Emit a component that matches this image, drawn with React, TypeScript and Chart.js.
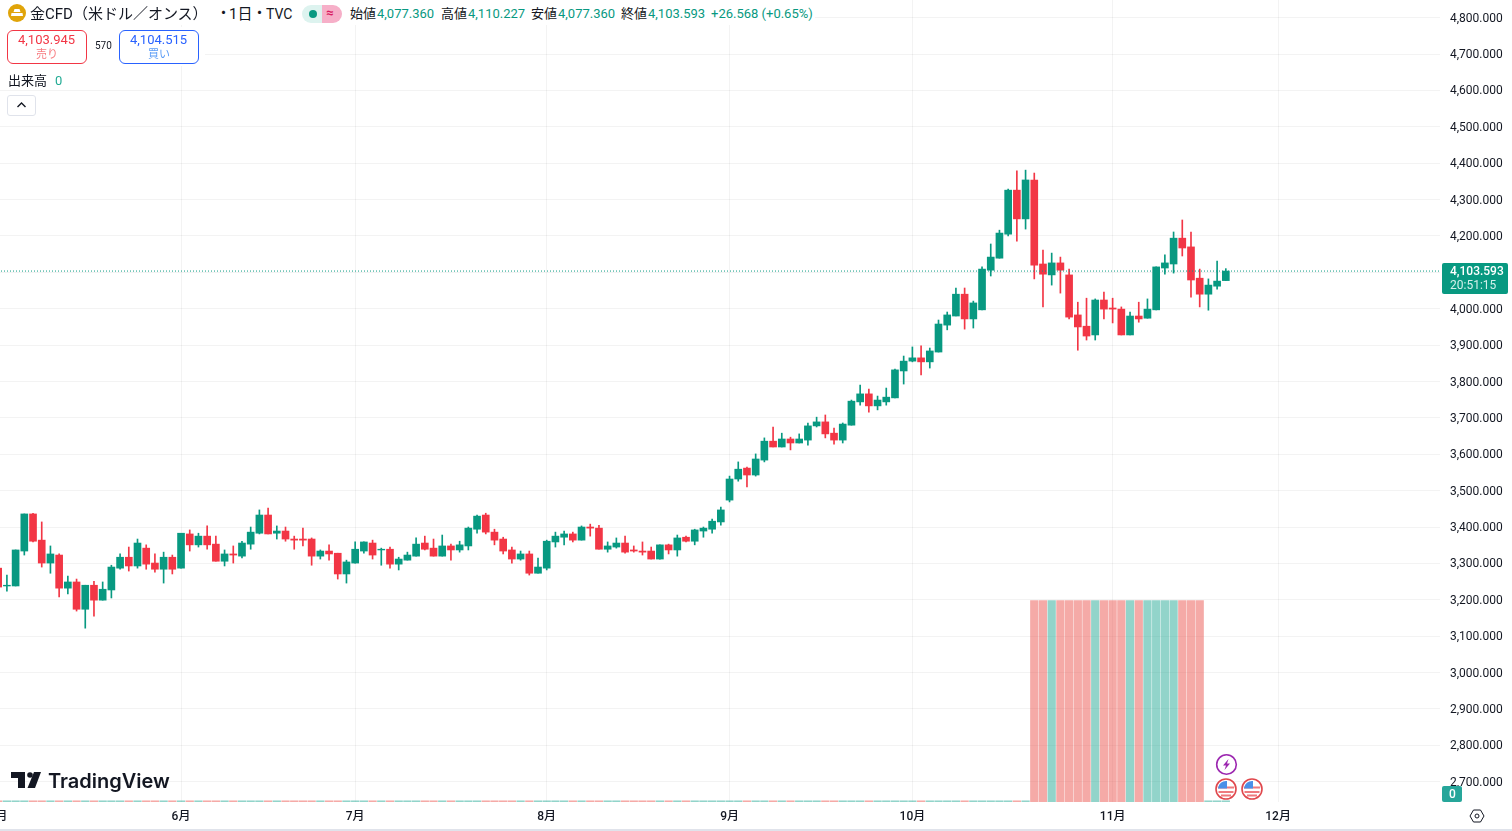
import React, { useEffect, useRef } from 'react';
import { Chart, registerables } from 'chart.js';

Chart.register(...registerables);

const UP = '#089981';
const DOWN = '#F23645';
const UP_VOL = 'rgba(38, 170, 150, 0.5)';
const DOWN_VOL = 'rgba(235, 85, 80, 0.5)';
const FONT = 'Roboto, "Noto Sans CJK JP", sans-serif';

// bar 0 is the first session of June, the first bar on screen is -21
const FIRST_BAR = -21;

const opens = [
  3287, 3238, 3238, 3334, 3436, 3364, 3301, 3323, 3232, 3249, 3174, 3240, 3199, 3227, 3287, 3317, 3293, 3342, 3301, 3284,
  3317, 3287, 3381, 3351, 3375, 3353, 3306, 3326, 3320, 3353, 3383, 3433, 3383, 3389, 3367, 3367, 3367, 3320, 3334, 3328,
  3271, 3301, 3334, 3356, 3337, 3339, 3298, 3309, 3320, 3356, 3342, 3320, 3348, 3337, 3348, 3394, 3433, 3386, 3367, 3337,
  3312, 3326, 3273, 3287, 3359, 3372, 3381, 3364, 3400, 3397, 3339, 3345, 3356, 3337, 3334, 3334, 3312, 3351, 3337, 3372,
  3361, 3389, 3394, 3414, 3474, 3532, 3562, 3543, 3584, 3636, 3620, 3642, 3631, 3639, 3678, 3689, 3658, 3639, 3680, 3744,
  3766, 3733, 3744, 3755, 3829, 3856, 3865, 3854, 3881, 3955, 3980, 4040, 3972, 3997, 4106, 4139, 4205, 4326, 4247, 4354,
  4123, 4093, 4126, 4093, 3983, 3952, 3928, 4024, 4002, 3999, 3928, 3980, 3974, 3997, 4112, 4123, 4194, 4170, 4084, 4040,
  4062, 4077.36,
];
const highs = [
  3293, 3268, 3337, 3436, 3438, 3414, 3348, 3326, 3265, 3257, 3240, 3251, 3249, 3295, 3326, 3345, 3367, 3351, 3326, 3331,
  3323, 3383, 3392, 3383, 3403, 3375, 3337, 3348, 3361, 3400, 3447, 3452, 3403, 3400, 3375, 3397, 3370, 3337, 3351, 3328,
  3309, 3359, 3359, 3364, 3342, 3345, 3317, 3331, 3370, 3375, 3367, 3378, 3353, 3361, 3400, 3433, 3438, 3394, 3372, 3345,
  3334, 3334, 3315, 3364, 3386, 3389, 3386, 3403, 3408, 3405, 3359, 3370, 3375, 3348, 3359, 3345, 3351, 3353, 3378, 3375,
  3394, 3400, 3422, 3455, 3540, 3579, 3565, 3601, 3645, 3675, 3658, 3647, 3656, 3686, 3702, 3708, 3672, 3686, 3749, 3790,
  3779, 3760, 3782, 3834, 3870, 3895, 3898, 3892, 3969, 3991, 4057, 4057, 4021, 4115, 4178, 4216, 4329, 4379, 4381, 4373,
  4161, 4153, 4142, 4109, 4018, 4029, 4027, 4046, 4029, 4005, 3991, 4018, 4027, 4115, 4148, 4211, 4244, 4211, 4109, 4082,
  4131, 4110.227,
];
const lows = [
  3224, 3224, 3238, 3323, 3359, 3290, 3273, 3208, 3216, 3169, 3122, 3155, 3199, 3205, 3284, 3279, 3287, 3284, 3276, 3246,
  3271, 3287, 3334, 3345, 3339, 3306, 3293, 3301, 3315, 3339, 3381, 3381, 3367, 3361, 3339, 3348, 3295, 3312, 3309, 3257,
  3246, 3301, 3328, 3312, 3295, 3287, 3282, 3309, 3320, 3337, 3320, 3320, 3309, 3331, 3337, 3383, 3381, 3351, 3326, 3301,
  3309, 3268, 3273, 3282, 3345, 3351, 3359, 3364, 3375, 3339, 3331, 3342, 3328, 3331, 3323, 3312, 3312, 3326, 3320, 3359,
  3351, 3372, 3383, 3405, 3469, 3526, 3510, 3540, 3579, 3620, 3620, 3612, 3631, 3625, 3675, 3645, 3628, 3631, 3680, 3735,
  3716, 3722, 3735, 3755, 3793, 3854, 3818, 3837, 3881, 3942, 3980, 3944, 3947, 3997, 4090, 4139, 4200, 4186, 4219, 4082,
  4005, 4065, 4043, 3972, 3886, 3914, 3914, 3972, 3961, 3928, 3928, 3963, 3974, 3997, 4095, 4098, 4145, 4032, 4005, 3996,
  4054, 4077.36,
];
const closes = [
  3235, 3240, 3337, 3436, 3361, 3301, 3326, 3232, 3249, 3174, 3240, 3199, 3229, 3290, 3317, 3293, 3356, 3298, 3284, 3317,
  3284, 3383, 3351, 3375, 3351, 3306, 3326, 3323, 3356, 3386, 3433, 3381, 3389, 3367, 3364, 3364, 3320, 3334, 3326, 3271,
  3304, 3339, 3359, 3323, 3339, 3298, 3312, 3323, 3353, 3339, 3320, 3348, 3337, 3351, 3397, 3430, 3386, 3364, 3334, 3312,
  3326, 3273, 3290, 3361, 3375, 3381, 3364, 3400, 3397, 3339, 3348, 3356, 3331, 3334, 3331, 3312, 3351, 3337, 3370, 3361,
  3392, 3397, 3416, 3447, 3532, 3559, 3543, 3587, 3636, 3620, 3642, 3631, 3642, 3678, 3689, 3656, 3639, 3683, 3746, 3766,
  3733, 3749, 3757, 3832, 3856, 3865, 3854, 3884, 3958, 3983, 4040, 3972, 4016, 4109, 4142, 4208, 4326, 4247, 4354, 4120,
  4095, 4126, 4106, 3977, 3950, 3925, 4024, 3999, 3999, 3928, 3980, 3972, 3999, 4115, 4126, 4194, 4167, 4079, 4040, 4065,
  4076, 4103.593,
];
// the pane is clipped at the top, 1 is the height the big bars reach on screen
const volumes = [
  0.006, 0.006, 0.006, 0.006, 0.006, 0.006, 0.006, 0.006, 0.006, 0.006, 0.006, 0.006, 0.006, 0.006, 0.006, 0.006, 0.006, 0.006, 0.006, 0.006,
  0.006, 0.006, 0.006, 0.006, 0.006, 0.006, 0.006, 0.006, 0.006, 0.006, 0.006, 0.006, 0.006, 0.006, 0.006, 0.006, 0.006, 0.006, 0.006, 0.006,
  0.006, 0.006, 0.006, 0.006, 0.006, 0.006, 0.006, 0.006, 0.006, 0.006, 0.006, 0.006, 0.006, 0.006, 0.006, 0.006, 0.006, 0.006, 0.006, 0.006,
  0.006, 0.006, 0.006, 0.006, 0.006, 0.006, 0.006, 0.006, 0.006, 0.006, 0.006, 0.006, 0.006, 0.006, 0.006, 0.006, 0.006, 0.006, 0.006, 0.006,
  0.006, 0.006, 0.006, 0.006, 0.006, 0.006, 0.006, 0.006, 0.006, 0.006, 0.006, 0.006, 0.006, 0.006, 0.006, 0.006, 0.006, 0.006, 0.006, 0.006,
  0.006, 0.006, 0.006, 0.006, 0.006, 0.006, 0.006, 0.006, 0.006, 0.006, 0.006, 0.006, 0.006, 0.006, 0.006, 0.006, 0.006, 0.006, 0.006, 1,
  1, 1, 1, 1, 1, 1, 1, 1, 1, 1, 1, 1, 1, 1, 1, 1, 1, 1, 1, 0.006,
  0.006, 0.006,
];

const monthBars = [-21, 0, 20, 42, 63, 84, 107, 126];
const monthLabels = ['5月', '6月', '7月', '8月', '9月', '10月', '11月', '12月'];
const priceTicks = [
  2700, 2800, 2900, 3000, 3100, 3200, 3300, 3400, 3500, 3600, 3700, 3800, 3900, 4000, 4100, 4200, 4300, 4400, 4500, 4600,
  4700, 4800,
];
const lastPrice = 4103.593;

const bars = opens.map((_, i) => i + FIRST_BAR);
const isUp = (i: number) => closes[i] >= opens[i];

const CandleChart: React.FC = () => {
  const canvasRef = useRef<HTMLCanvasElement>(null);

  useEffect(() => {
    if (!canvasRef.current) return;
    const xMin = -23.09;
    const xMax = 144.6;
    const yMin = 2644.2;
    const yMax = 4848.65;
    // the price labels sit one pixel under their grid line, so they get their own axis
    const labelShift = 2.75;

    const chart = new Chart(canvasRef.current, {
      type: 'bar',
      data: {
        datasets: [
          {
            label: 'last',
            type: 'line',
            data: [
              { x: xMin, y: lastPrice },
              { x: xMax, y: lastPrice }
            ],
            borderColor: UP,
            borderWidth: 1,
            borderDash: [1, 2],
            pointRadius: 0,
            order: 0
          },
          {
            label: 'body',
            data: bars.map((b, i) => ({ x: b, y: [opens[i], closes[i]] })),
            backgroundColor: bars.map((_, i) => (isUp(i) ? UP : DOWN)),
            barThickness: 7,
            grouped: false,
            order: 1
          },
          {
            label: 'wick',
            data: bars.map((b, i) => ({ x: b, y: [lows[i], highs[i]] })),
            backgroundColor: bars.map((_, i) => (isUp(i) ? UP : DOWN)),
            barThickness: 1,
            grouped: false,
            order: 2
          },
          {
            label: 'volume',
            yAxisID: 'vol',
            data: bars.map((b, i) => ({ x: b, y: volumes[i] })),
            backgroundColor: bars.map((_, i) => (isUp(i) ? UP_VOL : DOWN_VOL)),
            barThickness: 7.6,
            grouped: false,
            order: 3
          }
        ] as any
      },
      options: {
        responsive: false,
        animation: false,
        layout: { padding: 0 },
        plugins: { legend: { display: false }, tooltip: { enabled: false } },
        scales: {
          x: {
            type: 'linear',
            offset: false,
            min: xMin,
            max: xMax,
            afterBuildTicks: (scale: any) => {
              scale.ticks = monthBars.map((value) => ({ value }));
            },
            afterFit: (scale: any) => {
              scale.height = 29;
              scale.paddingLeft = 0;
              scale.paddingRight = 0;
            },
            grid: { color: 'rgba(46, 46, 46, 0.06)', offset: false, drawTicks: false },
            border: { display: false },
            ticks: {
              autoSkip: false,
              maxRotation: 0,
              padding: 8,
              color: '#131722',
              font: { family: FONT, size: 12, weight: 500 },
              callback: (value: any) => monthLabels[monthBars.indexOf(Number(value))]
            }
          },
          y: {
            position: 'right',
            min: yMin,
            max: yMax,
            afterBuildTicks: (scale: any) => {
              scale.ticks = priceTicks.map((value) => ({ value }));
            },
            afterFit: (scale: any) => {
              scale.width = 0;
              scale.paddingTop = 0;
              scale.paddingBottom = 0;
            },
            grid: { color: 'rgba(46, 46, 46, 0.06)', drawTicks: false },
            border: { display: false },
            ticks: { display: false }
          },
          priceLabels: {
            type: 'linear',
            position: 'right',
            min: yMin + labelShift,
            max: yMax + labelShift,
            afterBuildTicks: (scale: any) => {
              scale.ticks = priceTicks.map((value) => ({ value }));
            },
            afterFit: (scale: any) => {
              scale.width = 72;
              scale.paddingTop = 0;
              scale.paddingBottom = 0;
            },
            grid: { display: false, drawTicks: false },
            border: { display: false },
            ticks: {
              padding: 10,
              color: '#131722',
              font: { family: FONT, size: 12 },
              callback: (value: any) =>
                Number(value).toLocaleString('en-US', { minimumFractionDigits: 3, maximumFractionDigits: 3 })
            }
          },
          vol: { type: 'linear', display: false, min: 0, max: 3.984 }
        }
      }
    });

    return () => chart.destroy();
  }, []);

  return (
    <canvas
      ref={canvasRef}
      width={1532}
      height={831}
      style={{ position: 'absolute', left: -20, top: 0, width: 1532, height: 831 }}
    />
  );
};

// one line of text, y is the middle of the line
const T: React.FC<{ x: number; y: number; size?: number; color?: string; weight?: number; family?: string; children: React.ReactNode }> = ({
  x,
  y,
  size = 13,
  color = '#131722',
  weight = 400,
  family,
  children
}) => (
  <div
    style={{
      position: 'absolute',
      left: x,
      top: y - 10,
      lineHeight: '20px',
      fontSize: size,
      color,
      fontWeight: weight,
      fontFamily: family,
      whiteSpace: 'nowrap',
      textSpacingTrim: 'space-all'
    } as React.CSSProperties}
  >
    {children}
  </div>
);

const Box: React.FC<{ x: number; y: number; w: number; h: number; style?: React.CSSProperties; children?: React.ReactNode }> = ({
  x,
  y,
  w,
  h,
  style,
  children
}) => <div style={{ position: 'absolute', left: x, top: y, width: w, height: h, boxSizing: 'border-box', ...style }}>{children}</div>;

const Flag: React.FC<{ x: number; y: number }> = ({ x, y }) => (
  <svg style={{ position: 'absolute', left: x - 12, top: y - 12 }} width={24} height={24} viewBox="0 0 24 24">
    <circle cx={12} cy={12} r={10} fill="#fff" stroke="#E0474C" strokeWidth={1.6} />
    <path d="M4 10.5H20M4.5 15H19.5M7 18.5H17" stroke="#EE7A7E" strokeWidth={2} />
    <path d="M4 11.5A8 8 0 0 1 13 4V11.5Z" fill="#4A90E8" />
  </svg>
);

const App: React.FC = () => (
  <div style={{ position: 'relative', width: 1512, height: 831, overflow: 'hidden', background: '#fff', fontFamily: FONT }}>
    <style>{'body{margin:0;overflow:hidden}'}</style>
    <CandleChart />

    {/* legend masks the grid behind it */}
    <Box x={0} y={0} w={815} h={25} style={{ background: '#fff' }} />
    <Box x={0} y={27} w={205} h={39} style={{ background: '#fff' }} />

    <svg style={{ position: 'absolute', left: 8, top: 4 }} width={18} height={18} viewBox="0 0 18 18">
      <circle cx={9} cy={9} r={9} fill="#E0A409" />
      <path d="M6.5 5H11.500L12.500 8H5.500ZM3.500 9H14.500L15 12H3Z" fill="#fff" />
    </svg>
    <T x={30} y={14} size={15}>金CFD（米ドル／オンス）</T>
    <T x={216} y={13} size={15}>・</T>
    <T x={229} y={14} size={15}>1日</T>
    <T x={252} y={13} size={15}>・</T>
    <T x={266} y={14} size={14}>TVC</T>

    <Box x={302} y={5} w={20} h={18} style={{ background: '#DDF3EF', borderRadius: '9px 0 0 9px' }} />
    <Box x={322} y={5} w={20} h={18} style={{ background: '#F6AFC8', borderRadius: '0 9px 9px 0' }} />
    <Box x={309} y={10} w={8} h={8} style={{ background: UP, borderRadius: 4 }} />
    <T x={326} y={13} size={13} color="#D81B60" weight={700}>≈</T>

    <T x={350} y={14}>始値</T>
    <T x={377} y={14} color={UP}>4,077.360</T>
    <T x={441} y={14}>高値</T>
    <T x={468} y={14} color={UP}>4,110.227</T>
    <T x={531} y={14}>安値</T>
    <T x={558} y={14} color={UP}>4,077.360</T>
    <T x={621} y={14}>終値</T>
    <T x={648} y={14} color={UP}>4,103.593</T>
    <T x={711} y={14} color={UP}>+26.568 (+0.65%)</T>

    <Box x={7} y={30} w={80} h={34} style={{ border: `1px solid ${DOWN}`, borderRadius: 6 }} />
    <T x={18} y={40} color={DOWN}>4,103.945</T>
    <T x={36} y={55} size={11} color="#F77C80">売り</T>
    <T x={95} y={46} size={10}>570</T>
    <Box x={119} y={30} w={80} h={34} style={{ border: '1px solid #2962FF', borderRadius: 6 }} />
    <T x={130} y={40} color="#2962FF">4,104.515</T>
    <T x={148} y={55} size={11} color="#5B9CF6">買い</T>

    <T x={8} y={81}>出来高</T>
    <T x={55} y={81} color="#22AB94">0</T>
    <Box x={7} y={95} w={29} h={21} style={{ border: '1px solid #E0E3EB', borderRadius: 3, background: '#fff' }} />
    <svg style={{ position: 'absolute', left: 16, top: 100 }} width={11} height={10} viewBox="0 0 11 10">
      <path d="M1.500 7L5.500 3L9.500 7" fill="none" stroke="#131722" strokeWidth={1.4} />
    </svg>

    <svg style={{ position: 'absolute', left: 11, top: 772 }} width={30} height={16} viewBox="0 0 30 16">
      <path d="M0 0H14V16H7V6H0Z M23 0H30L24 16H16.500Z" fill="#131722" />
      <circle cx={19} cy={3} r={2.8} fill="#131722" />
    </svg>
    <T x={48} y={781} size={20} weight={600} family="Inter, sans-serif">TradingView</T>

    <svg style={{ position: 'absolute', left: 1215, top: 753 }} width={23} height={23} viewBox="0 0 23 23">
      <circle cx={11.500} cy={11.500} r={9.800} fill="#fff" stroke="#9C27B0" strokeWidth={1.6} />
      <path d="M13.500 6L8 12.500H11L9.500 17L15 10.500H12Z" fill="#9C27B0" />
    </svg>
    <Flag x={1226} y={788.5} />
    <Flag x={1252} y={788.5} />

    <Box x={1442} y={263} w={66} h={31} style={{ background: UP, borderRadius: 2 }} />
    <T x={1450} y={271} size={12} color="#fff" weight={500}>4,103.593</T>
    <T x={1450} y={285} size={12} color="#D5F0EB">20:51:15</T>
    <Box x={1442} y={786} w={20} h={16} style={{ background: '#26A69A', borderRadius: 2 }} />
    <T x={1449} y={794} size={12} color="#fff" weight={500}>0</T>

    <svg style={{ position: 'absolute', left: 1469, top: 809 }} width={16} height={14} viewBox="0 0 16 14">
      <path d="M4.500 1H11.500L15 7L11.500 13H4.500L1 7Z" fill="none" stroke="#131722" strokeWidth={1} />
      <circle cx={8} cy={7} r={2} fill="none" stroke="#131722" strokeWidth={1} />
    </svg>
    <Box x={0} y={829} w={1512} h={2} style={{ background: '#E0E3EB' }} />
  </div>
);

export default App;
